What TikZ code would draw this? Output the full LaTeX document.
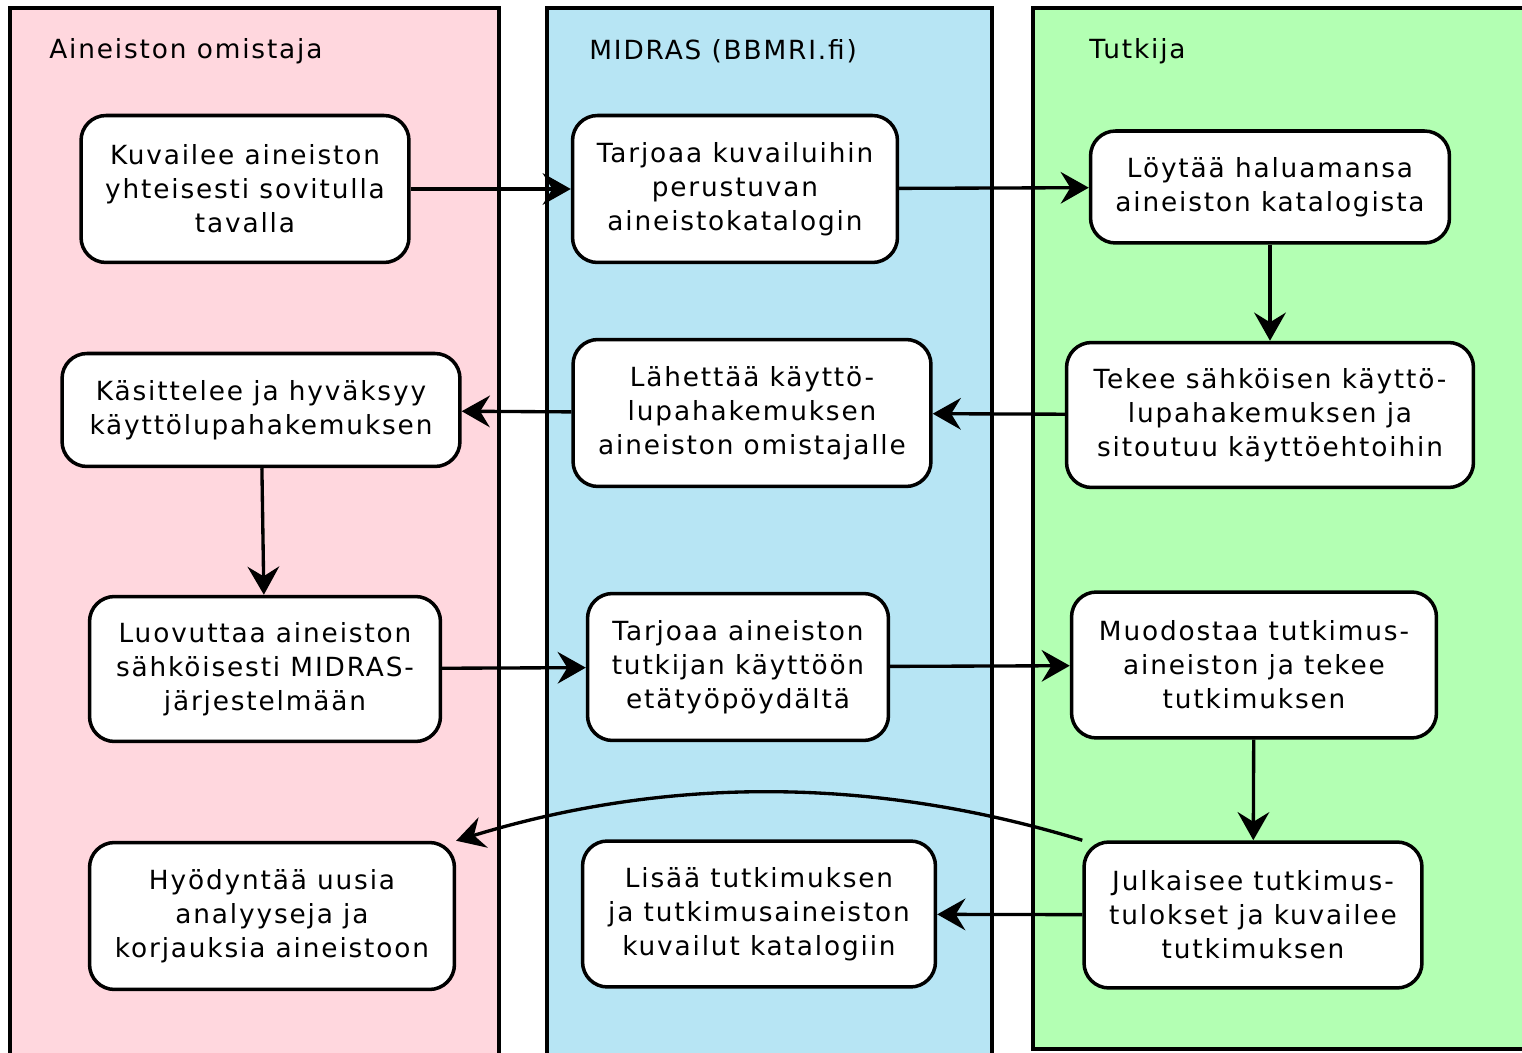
\documentclass[tikz,border=0pt]{standalone}
\usepackage{fontspec}
\setmainfont{DejaVu Sans}[LetterSpace=7]
\usepackage{tikz}
\usetikzlibrary{arrows.meta}
\tikzset{>={Stealth[length=16pt,width=18pt,inset=5.5pt]}}
\definecolor{ownerpink}{RGB}{255,215,222}
\definecolor{midrasblue}{RGB}{183,229,244}
\definecolor{researchgreen}{RGB}{179,255,179}
\tikzset{
    lane/.style={draw=black, line width=2pt},
    lanetitle/.style={anchor=west, inner sep=0pt},
    task/.style={draw=black, fill=white, line width=2pt, rounded corners=0.5cm, align=center, inner sep=0pt},
    flow/.style={->, line width=1.9pt},
}

\begin{document}
\begin{tikzpicture}[x=0.02cm, y=-0.02cm, font=\fontsize{15}{19.3}\selectfont]
    \useasboundingbox (0,0) rectangle (1522,1053);
    % kaistat
    \filldraw[lane, fill=ownerpink] (10,8) rectangle (499,1080);
    \filldraw[lane, fill=midrasblue] (547,8) rectangle (992,1080);
    \filldraw[lane, fill=researchgreen] (1033,8) rectangle (1560,1049);
    \node[lanetitle] (owner) at (49,51) {Aineiston omistaja};
    \node[lanetitle] (midras) at (589,51) {MIDRAS (BBMRI.fi)};
    \node[lanetitle] (researcher) at (1089,51) {Tutkija};

    % tehtävät
    \node[task, minimum width=6.56cm, minimum height=2.94cm] (kuv) at (245,189) {Kuvailee aineiston\\yhteisesti sovitulla\\tavalla};
    \node[task, minimum width=6.5cm, minimum height=2.94cm] (tarkat) at (735,189) {Tarjoaa kuvailuihin\\perustuvan\\aineistokatalogin};
    \node[task, minimum width=7.18cm, minimum height=2.24cm] (loy) at (1270,187) {Löytää haluamansa\\aineiston katalogista};
    \node[task, minimum width=8.14cm, minimum height=2.9cm] (tek) at (1270,415) {Tekee sähköisen käyttö-\\lupahakemuksen ja\\sitoutuu käyttöehtoihin};
    \node[task, minimum width=7.16cm, minimum height=2.94cm] (lah) at (752,413) {Lähettää käyttö-\\lupahakemuksen\\aineiston omistajalle};
    \node[task, minimum width=7.96cm, minimum height=2.26cm] (kas) at (261,410) {Käsittelee ja hyväksyy\\käyttölupahakemuksen};
    \node[task, minimum width=7.02cm, minimum height=2.9cm] (luo) at (265,669) {Luovuttaa aineiston\\sähköisesti MIDRAS-\\järjestelmään};
    \node[task, minimum width=6.02cm, minimum height=2.94cm] (tarain) at (738,667) {Tarjoaa aineiston\\tutkijan käyttöön\\etätyöpöydältä};
    \node[task, minimum width=7.3cm, minimum height=2.92cm] (muo) at (1254,665) {Muodostaa tutkimus-\\aineiston ja tekee\\tutkimuksen};
    \node[task, minimum width=6.76cm, minimum height=2.92cm] (jul) at (1253,915) {Julkaisee tutkimus-\\tulokset ja kuvailee\\tutkimuksen};
    \node[task, minimum width=7.06cm, minimum height=2.92cm] (lis) at (759,914) {Lisää tutkimuksen\\ja tutkimusaineiston\\kuvailut katalogiin};
    \node[task, minimum width=7.3cm, minimum height=2.94cm] (hyo) at (272,916) {Hyödyntää uusia\\analyyseja ja\\korjauksia aineistoon};

    % nuolet
    \draw[flow] (kuv) -- (tarkat);
    \draw[flow] (tarkat) -- (loy);
    \draw[flow] (loy) -- (tek);
    \draw[flow] (tek) -- (lah);
    \draw[flow] (lah) -- (kas);
    \draw[flow] (kas) -- (luo);
    \draw[flow] (luo) -- (tarain);
    \draw[flow] (tarain) -- (muo);
    \draw[flow] (muo) -- (jul);
    \draw[flow] (jul) -- (lis);
    \draw[flow] (jul.north west) to[out=163, in=17, looseness=0.9] (hyo.north east);
\end{tikzpicture}
\end{document}
